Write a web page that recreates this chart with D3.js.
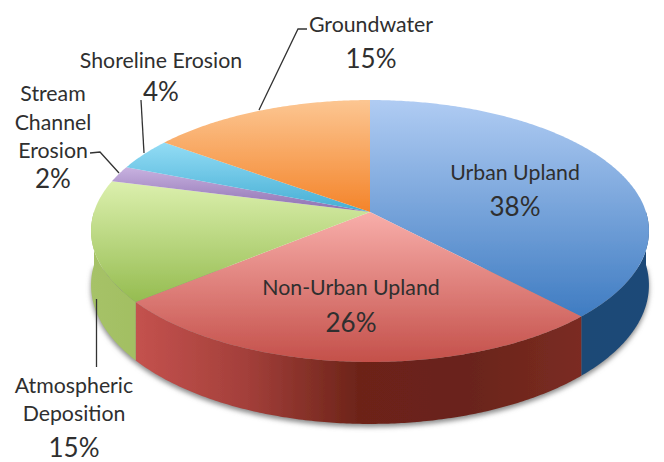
<!DOCTYPE html>
<html>
<head>
  <meta charset="utf-8">
  <title>Sediment sources</title>
  <script src="https://d3js.org/d3.v7.min.js"></script>
  <style>
    html, body { margin: 0; padding: 0; background: #fff; }
    svg { display: block; }
    text { font-family: Lato, "Open Sans", sans-serif; fill: #2f2f2f; text-anchor: middle; }
    .name { font-size: 21.3px; }
    .pct { font-size: 26px; }
  </style>
</head>
<body>
<script>
  // data, clockwise from 12 o'clock
  var categories = ["Urban Upland", "Non-Urban Upland", "Atmospheric Deposition",
                    "Stream Channel Erosion", "Shoreline Erosion", "Groundwater"];
  var percents = [38, 26, 15, 2, 4, 15];

  // colours per slice: top face light/dark, wall stops
  var topLight = ["#b0ccf3", "#f8aeaa", "#dcf0ae", "#c8b2e0", "#93dcf5", "#fcc692"];
  var topDark = ["#3f7cc2", "#c4504a", "#95bc50", "#8c6fb0", "#45aed4", "#f4842a"];
  var wallColors = [
    ["#1d466f", "#1f4a78"],
    ["#c4524e", "#a33f3a", "#6d2419", "#6a241b", "#7b2c22"],
    ["#a6c267", "#8fb04f"],
    ["#6b5585", "#6b5585"],
    ["#2f8aa8", "#2f8aa8"],
    ["#b8651f", "#b8651f"]
  ];

  var width = 664, height = 462;

  // perspective view of the disc
  var apexX = 370, apexY = 212;
  var scaleX = 276, scaleY = 128.2, tilt = 0.145, depth = 53;

  function project(a, drop) {
    var u = Math.sin(a), v = -Math.cos(a), w = 1 - tilt * v;
    return [apexX + scaleX * u / w, apexY + scaleY * v / w + (drop ? depth / w : 0)];
  }

  function rim(start, end) {
    var n = Math.max(2, Math.ceil((end - start) / 0.01));
    return d3.range(n + 1).map(function(i) { return start + (end - start) * i / n; });
  }

  var pie = d3.pie().sort(null).value(function(d) { return d; });
  var slices = pie(percents);
  var line = d3.line();

  var svg = d3.select("body").append("svg").attr("width", width).attr("height", height);
  var defs = svg.append("defs");

  defs.append("filter").attr("id", "soft")
    .attr("x", "-10%").attr("y", "-10%").attr("width", "120%").attr("height", "120%")
    .append("feGaussianBlur").attr("stdDeviation", 2.5);

  defs.append("filter").attr("id", "slight")
    .attr("x", "-5%").attr("y", "-5%").attr("width", "110%").attr("height", "110%")
    .append("feGaussianBlur").attr("stdDeviation", 0.45);

  slices.forEach(function(s, i) {
    var pts = rim(s.startAngle, s.endAngle).map(function(a) { return project(a, false); });
    pts.push([apexX, apexY]);
    var ys = pts.map(function(p) { return p[1]; });

    var top = defs.append("linearGradient").attr("id", "top" + i)
      .attr("gradientUnits", "userSpaceOnUse")
      .attr("x1", 0).attr("x2", 0).attr("y1", d3.min(ys)).attr("y2", d3.max(ys));
    top.append("stop").attr("offset", 0).attr("stop-color", topLight[i]);
    top.append("stop").attr("offset", 1).attr("stop-color", topDark[i]);

    var xs = pts.map(function(p) { return p[0]; });
    var wall = defs.append("linearGradient").attr("id", "wall" + i)
      .attr("gradientUnits", "userSpaceOnUse")
      .attr("x1", d3.min(xs)).attr("x2", d3.max(xs)).attr("y1", 0).attr("y2", 0);
    // wall stops run left to right on screen
    wallColors[i].forEach(function(c, k) {
      wall.append("stop").attr("offset", k / (wallColors[i].length - 1)).attr("stop-color", c);
    });
  });

  // only the front half of the rim shows a wall
  var frontStart = Math.PI / 2, frontEnd = 3 * Math.PI / 2;
  var frontSlices = slices.filter(function(s) {
    return s.endAngle > frontStart && s.startAngle < frontEnd;
  });

  function wallPath(s) {
    var angles = rim(Math.max(s.startAngle, frontStart), Math.min(s.endAngle, frontEnd));
    var upper = angles.map(function(a) { return project(a, false); });
    var lower = angles.slice().reverse().map(function(a) { return project(a, true); });
    return line(upper.concat(lower)) + "Z";
  }

  function topPath(s) {
    var pts = rim(s.startAngle, s.endAngle).map(function(a) { return project(a, false); });
    pts.push([apexX, apexY]);
    return line(pts) + "Z";
  }

  // shadow under the disc, front rim only
  var front = rim(frontStart, frontEnd).map(function(a) { return project(a, true); });
  svg.append("path")
    .attr("d", line(front) + "Z")
    .attr("transform", "translate(0,3)")
    .attr("fill", "#8a8a8a")
    .attr("filter", "url(#soft)");

  var disc = svg.append("g").attr("filter", "url(#slight)");

  disc.selectAll(".wall").data(frontSlices).join("path")
    .attr("class", "wall")
    .attr("d", wallPath)
    .attr("fill", function(d) { return "url(#wall" + d.index + ")"; });

  disc.selectAll(".top").data(slices).join("path")
    .attr("class", "top")
    .attr("d", topPath)
    .attr("fill", function(d, i) { return "url(#top" + i + ")"; });

  // leader lines
  var leaders = [
    [[259, 110], [298, 29], [307, 29]],
    [[144, 153], [141, 100]],
    [[119, 173], [100, 152], [90, 153]],
    [[96.5, 299], [96.5, 367]]
  ];
  svg.selectAll(".leader").data(leaders).join("path")
    .attr("class", "leader")
    .attr("d", line)
    .attr("fill", "none")
    .attr("stroke", "#333")
    .attr("stroke-width", 1.3);

  // labels: category wrapped by hand, value from the percents array
  var labels = [
    { i: 0, x: 515, lines: [["Urban Upland", 180]], y: 216 },
    { i: 1, x: 351, lines: [["Non-Urban Upland", 295]], y: 332 },
    { i: 2, x: 74, lines: [["Atmospheric", 393], ["Deposition", 421]], y: 457 },
    { i: 3, x: 53, lines: [["Stream", 101], ["Channel", 130], ["Erosion", 158]], y: 188 },
    { i: 4, x: 161, lines: [["Shoreline Erosion", 68]], y: 101 },
    { i: 5, x: 371, lines: [["Groundwater", 32]], y: 68 }
  ];

  labels.forEach(function(l) {
    l.lines.forEach(function(t) {
      svg.append("text").attr("class", "name").attr("x", l.x).attr("y", t[1]).text(t[0]);
    });
    svg.append("text").attr("class", "pct").attr("x", l.x).attr("y", l.y).text(percents[l.i] + "%");
  });
</script>
</body>
</html>
